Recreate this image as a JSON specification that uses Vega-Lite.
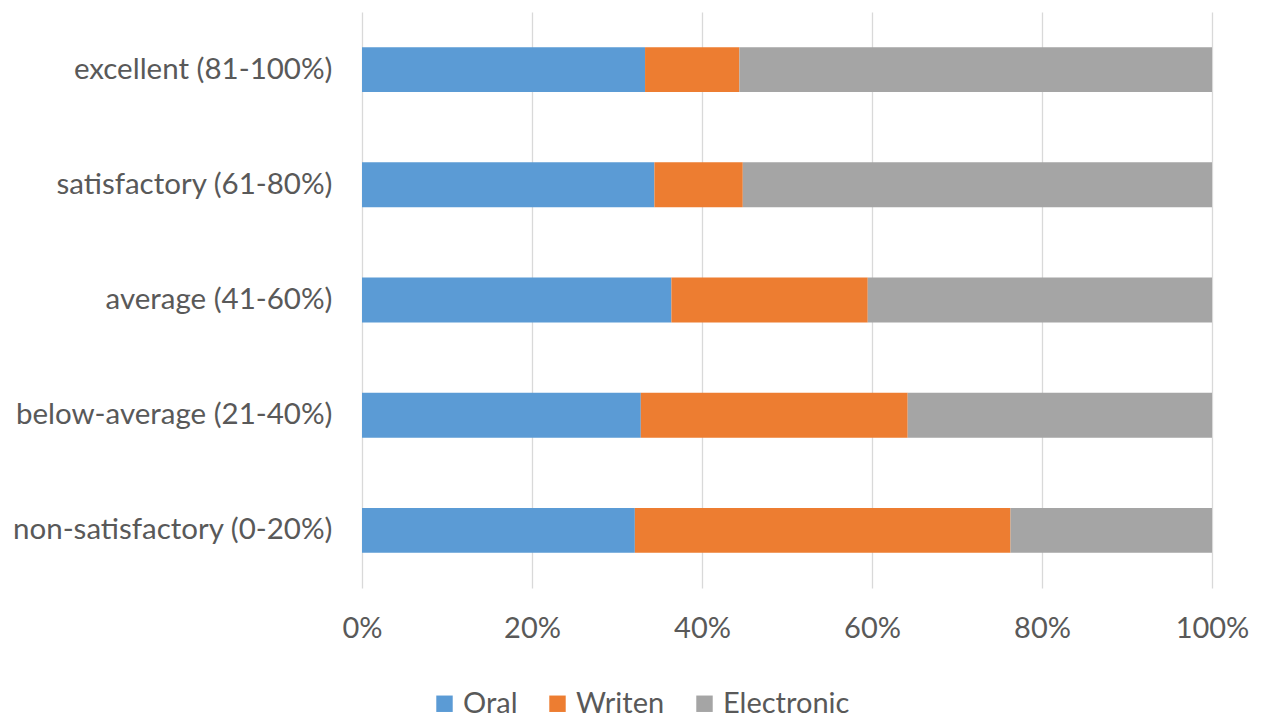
{
  "$schema": "https://vega.github.io/schema/vega-lite/v6.json",
  "width": 850,
  "height": 576,
  "autosize": "none",
  "padding": {"left": 362, "top": 12, "right": 49, "bottom": 128},
  "background": "white",
  "data": {
    "values": [
      {"grade": "excellent (81-100%)", "type": "Oral", "ord": 1, "value": 33.3},
      {"grade": "excellent (81-100%)", "type": "Writen", "ord": 2, "value": 11.1},
      {"grade": "excellent (81-100%)", "type": "Electronic", "ord": 3, "value": 55.6},
      {"grade": "satisfactory (61-80%)", "type": "Oral", "ord": 1, "value": 34.4},
      {"grade": "satisfactory (61-80%)", "type": "Writen", "ord": 2, "value": 10.4},
      {"grade": "satisfactory (61-80%)", "type": "Electronic", "ord": 3, "value": 55.2},
      {"grade": "average (41-60%)", "type": "Oral", "ord": 1, "value": 36.4},
      {"grade": "average (41-60%)", "type": "Writen", "ord": 2, "value": 23.1},
      {"grade": "average (41-60%)", "type": "Electronic", "ord": 3, "value": 40.5},
      {"grade": "below-average (21-40%)", "type": "Oral", "ord": 1, "value": 32.8},
      {"grade": "below-average (21-40%)", "type": "Writen", "ord": 2, "value": 31.4},
      {"grade": "below-average (21-40%)", "type": "Electronic", "ord": 3, "value": 35.8},
      {"grade": "non-satisfactory (0-20%)", "type": "Oral", "ord": 1, "value": 32.1},
      {"grade": "non-satisfactory (0-20%)", "type": "Writen", "ord": 2, "value": 44.2},
      {"grade": "non-satisfactory (0-20%)", "type": "Electronic", "ord": 3, "value": 23.7}
    ]
  },
  "mark": {"type": "bar"},
  "encoding": {
    "y": {
      "field": "grade",
      "type": "nominal",
      "sort": ["excellent (81-100%)", "satisfactory (61-80%)", "average (41-60%)", "below-average (21-40%)", "non-satisfactory (0-20%)"],
      "scale": {"paddingInner": 0.61, "paddingOuter": 0.305},
      "axis": {
        "title": null,
        "domain": false,
        "ticks": false,
        "grid": false,
        "labelPadding": 30,
        "labelFontSize": 29.5,
        "labelFont": "Lato",
        "labelColor": "#595959",
        "labelLimit": 400
      }
    },
    "x": {
      "field": "value",
      "type": "quantitative",
      "stack": "normalize",
      "scale": {"domain": [0, 1], "nice": false},
      "axis": {
        "title": null,
        "format": ".0%",
        "values": [0, 0.2, 0.4, 0.6, 0.8, 1],
        "domain": false,
        "ticks": false,
        "grid": true,
        "gridColor": "#d9d9d9",
        "gridWidth": 1.3,
        "labelFlush": false,
        "labelPadding": 26,
        "labelFontSize": 29,
        "labelFont": "Lato",
        "labelColor": "#595959"
      }
    },
    "color": {
      "field": "type",
      "type": "nominal",
      "sort": ["Oral", "Writen", "Electronic"],
      "scale": {"domain": ["Oral", "Writen", "Electronic"], "range": ["#5B9BD5", "#ED7D31", "#A5A5A5"]},
      "legend": {
        "title": null,
        "orient": "none",
        "direction": "horizontal",
        "legendX": 68,
        "legendY": 677,
        "symbolType": "square",
        "symbolSize": 270,
        "symbolStrokeWidth": 0,
        "labelFontSize": 29,
        "labelFont": "Lato",
        "labelColor": "#595959",
        "labelOffset": 4,
        "columnPadding": 25
      }
    },
    "order": {"field": "ord", "type": "quantitative"}
  },
  "config": {"view": {"stroke": null}}
}
